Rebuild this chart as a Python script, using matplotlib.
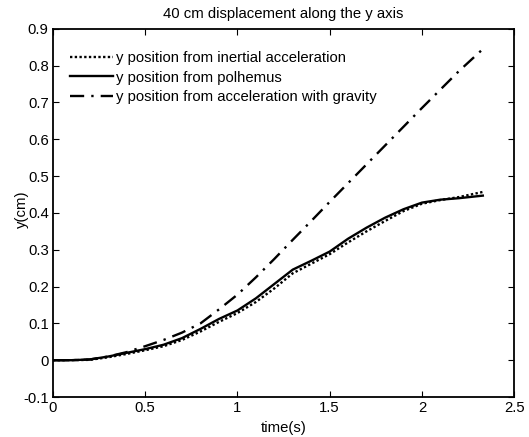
import matplotlib
matplotlib.use("Agg")
import matplotlib.pyplot as plt

plt.rcParams['font.family'] = ['Liberation Sans', 'DejaVu Sans']

# data
time_s = [0, 0.1, 0.2, 0.3, 0.4, 0.5, 0.6, 0.7, 0.8, 0.9, 1.0, 1.1, 1.2,
          1.3, 1.4, 1.5, 1.6, 1.7, 1.8, 1.9, 2.0, 2.1, 2.2, 2.33]
y_inertial = [0, 0, 0.001, 0.008, 0.017, 0.027, 0.038, 0.055, 0.078, 0.104,
              0.128, 0.158, 0.195, 0.236, 0.262, 0.288, 0.32, 0.35, 0.378,
              0.405, 0.425, 0.435, 0.443, 0.457]
y_polhemus = [0, 0, 0.002, 0.01, 0.02, 0.03, 0.042, 0.06, 0.085, 0.112,
              0.135, 0.168, 0.207, 0.246, 0.27, 0.295, 0.33, 0.36, 0.387,
              0.41, 0.428, 0.436, 0.44, 0.447]
y_gravity = [0, 0, 0.002, 0.01, 0.022, 0.038, 0.055, 0.075, 0.1, 0.138,
             0.178, 0.225, 0.275, 0.327, 0.378, 0.43, 0.481, 0.532, 0.583,
             0.634, 0.685, 0.735, 0.785, 0.845]
labels = ['y position from inertial acceleration',
          'y position from polhemus',
          'y position from acceleration with gravity']

FS = 10.7

fig = plt.figure(figsize=(5.29, 4.37), dpi=100)
ax = fig.add_axes([0.1, 0.0915, 0.872, 0.8425])

ax.plot(time_s, y_inertial, color='black', lw=1.7, linestyle=(0, (1, 1)), label=labels[0])
ax.plot(time_s, y_polhemus, color='black', lw=1.7, linestyle='-', label=labels[1])
ax.plot(time_s, y_gravity, color='black', lw=1.7, linestyle=(0, (6, 3, 1, 3)), label=labels[2])

ax.set_xlim(0, 2.5)
ax.set_ylim(-0.1, 0.9)
ax.set_xticks([0, 0.5, 1, 1.5, 2, 2.5])
ax.set_xticklabels(['0', '0.5', '1', '1.5', '2', '2.5'])
ax.set_yticks([-0.1, 0, 0.1, 0.2, 0.3, 0.4, 0.5, 0.6, 0.7, 0.8, 0.9])
ax.set_yticklabels(['-0.1', '0', '0.1', '0.2', '0.3', '0.4', '0.5', '0.6', '0.7', '0.8', '0.9'])
ax.tick_params(direction='in', top=True, right=True, labelsize=FS, length=4, width=0.8, pad=3)
for s in ax.spines.values():
    s.set_linewidth(1.3)

ax.set_title('40 cm displacement along the y axis', fontsize=FS, pad=8)
ax.set_xlabel('time(s)', fontsize=FS, labelpad=4)
ax.set_ylabel('y(cm)', fontsize=FS)
ax.yaxis.set_label_coords(-0.052, 0.51)

ax.legend(loc='upper left', bbox_to_anchor=(0.025, 0.955), frameon=False, fontsize=FS,
          handlelength=2.9, handletextpad=0.2, labelspacing=0.35, borderaxespad=0)

fig.savefig('out.png', dpi=100)
